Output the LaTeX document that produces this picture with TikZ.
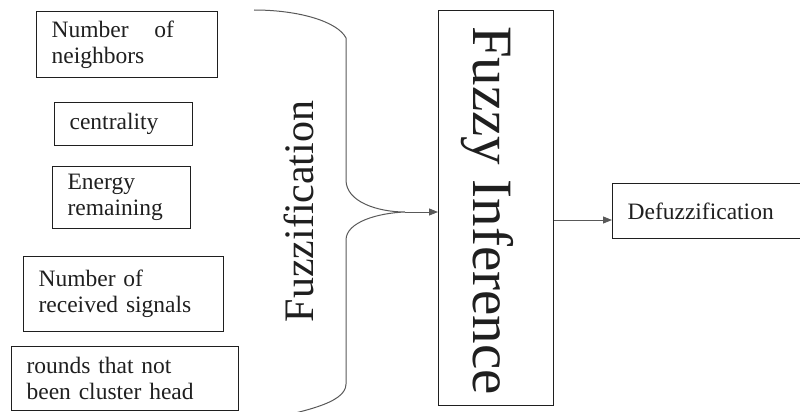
\documentclass[tikz,border=0pt]{standalone}
\usepackage{fontspec}
\setmainfont{Liberation Serif}
\usetikzlibrary{arrows.meta}
\definecolor{ink}{gray}{0.12}
\definecolor{linegray}{gray}{0.35}
\tikzset{
  inbox/.style={draw=ink, line width=1.2pt, inner xsep=15pt, inner ysep=0pt,
    align=left, anchor=north west, text=ink,
    font=\rmfamily\fontsize{23.5}{26}\selectfont},
  bigtext/.style={text=ink, inner sep=0pt},
  bracepath/.style={draw=linegray, line width=1pt},
  arr/.style={draw=linegray, line width=0.9pt, -{Triangle[length=9pt,width=7pt]}},
}
\begin{document}
\begin{tikzpicture}[x=1pt,y=-1pt]
\useasboundingbox (0,0) rectangle (800,412);
\clip (0,0) rectangle (800,412);
% input boxes
\node[inbox, text width=151pt, minimum height=66pt] (nb) at (36,11) {Number\hspace{18pt} of\\neighbors};
\node[inbox, text width=108pt, minimum height=43pt] (ce) at (54,102) {centrality};
\node[inbox, text width=108pt, minimum height=62pt] (en) at (52,166) {Energy\\remaining};
\node[inbox, text width=170pt, minimum height=75pt] (rs) at (23,256) {Number of\\received signals};
\node[inbox, text width=197pt, minimum height=64pt] (rc) at (11,346) {rounds that not\\been cluster head};
% fuzzification brace
\coordinate (tip) at (405,212);
\draw[bracepath] (254,10) .. controls (300,10) and (338,22) .. (346,38)
  -- (346,180) .. controls (346,202) and (378,212) .. (tip)
  .. controls (378,213) and (346,222) .. (346,240)
  -- (346,384) .. controls (346,404) and (300,412) .. (255,422);
\node[bigtext, rotate=90, font=\rmfamily\fontsize{42}{46}\selectfont] (fz) at (299,211.5) {Fuzzification};
% fuzzy inference
\node[draw=ink, line width=1.2pt, minimum width=115pt, minimum height=395pt, inner sep=0pt, anchor=north west] (inf) at (438,10) {};
\node[bigtext, rotate=-90, font=\rmfamily\fontsize{57}{60}\selectfont] (inft) at (487,210.5) {Fuzzy Inference};
\draw[arr] (tip) -- (tip -| inf.west);
% defuzzification
\node[inbox, text width=168pt, minimum height=55pt] (df) at (612,183) {Defuzzification};
\coordinate (a2) at (580,220);
\draw[arr] (inf.east |- a2) -- (df.west |- a2);
\end{tikzpicture}
\end{document}
